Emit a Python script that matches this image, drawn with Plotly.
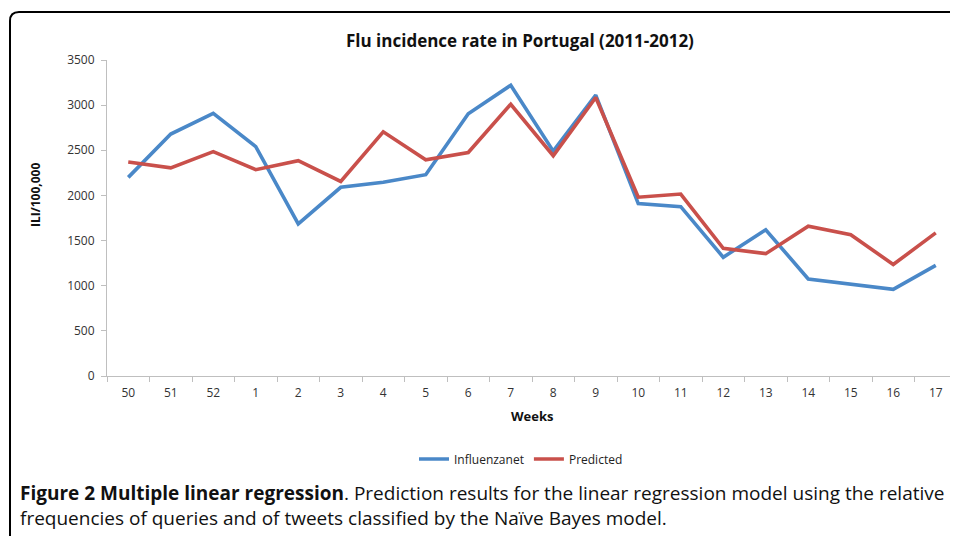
import plotly.graph_objects as go

weeks = ["50", "51", "52", "1", "2", "3", "4", "5", "6", "7", "8", "9",
         "10", "11", "12", "13", "14", "15", "16", "17"]
influenzanet = [2200, 2680, 2910, 2540, 1685, 2090, 2145, 2230, 2905, 3220,
                2490, 3110, 1910, 1875, 1315, 1620, 1075, 1015, 960, 1225]
predicted = [2370, 2305, 2485, 2285, 2385, 2155, 2705, 2395, 2475, 3010,
             2440, 3085, 1980, 2015, 1415, 1355, 1660, 1565, 1235, 1585]

OFF = 8  # browser body margin
W, H = 958 - OFF, 536 - OFF
L, R, T = 107 - OFF, 1, 60 - OFF
B = H - (376 - OFF)
PW, PH = W - L - R, H - T - B


def px(x):
    return (x - OFF - L) / PW


def py(y):
    return (H - B - (y - OFF)) / PH


FONT = "Open Sans"
fig = go.Figure()
fig.add_trace(go.Scatter(x=weeks, y=influenzanet, mode="lines", name="Influenzanet",
                         line=dict(color="#4A88C8", width=3.6)))
fig.add_trace(go.Scatter(x=weeks, y=predicted, mode="lines", name="Predicted",
                         line=dict(color="#C9504B", width=3.6)))

r = 9
border = (f"M {px(10)},{py(545)} L {px(10)},{py(12 + r)} "
          f"Q {px(10)},{py(12)} {px(10 + r)},{py(12)} L {px(970)},{py(12)}")

fig.update_layout(
    width=W, height=H,
    margin=dict(l=L, r=R, t=T, b=B),
    paper_bgcolor="white", plot_bgcolor="white",
    font=dict(family=FONT, color="#333333", size=12),
    showlegend=True,
    legend=dict(orientation="h", x=px(521), xanchor="center", y=py(459), yanchor="middle",
                font=dict(family=FONT, size=12, color="#222222"),
                itemwidth=30, tracegroupgap=0, bgcolor="rgba(0,0,0,0)"),
    xaxis=dict(type="category", range=[-0.5, 19.5], showline=True, linecolor="#BFBFBF",
               linewidth=1, ticks="outside", tickson="boundaries", ticklen=5,
               tickcolor="#BFBFBF", showgrid=False, zeroline=False, ticklabelstandoff=6,
               tickfont=dict(size=12, color="#333333")),
    yaxis=dict(range=[0, 3500], dtick=500, showline=True, linecolor="#BFBFBF",
               linewidth=1, ticks="outside", ticklen=5, tickcolor="#BFBFBF",
               showgrid=False, zeroline=False, ticklabelstandoff=4,
               tickfont=dict(size=12, color="#333333")),
    shapes=[dict(type="path", xref="paper", yref="paper", path=border,
                 line=dict(color="black", width=2))],
    annotations=[
        dict(text="<b>Flu incidence rate in Portugal (2011-2012)</b>", xref="paper", yref="paper",
             x=px(520), y=py(41), xanchor="center", yanchor="middle", showarrow=False,
             font=dict(family=FONT, size=17, color="#111111")),
        dict(text="<b>Weeks</b>", xref="paper", yref="paper",
             x=px(532), y=py(416), xanchor="center", yanchor="middle", showarrow=False,
             font=dict(family=FONT, size=13, color="#111111")),
        dict(text="<b>ILI/100,000</b>", xref="paper", yref="paper", textangle=-90,
             x=px(36), y=py(195), xanchor="center", yanchor="middle", showarrow=False,
             font=dict(family=FONT, size=12, color="#111111")),
        dict(text="<b>Figure 2 Multiple linear regression</b>. Prediction results for the linear "
                  "regression model using the relative",
             xref="paper", yref="paper", x=px(18), y=py(493), xanchor="left", yanchor="middle",
             showarrow=False, font=dict(family=FONT, size=19, color="#111111")),
        dict(text="frequencies of queries and of tweets classified by the Naïve Bayes model.",
             xref="paper", yref="paper", x=px(18), y=py(518), xanchor="left", yanchor="middle",
             showarrow=False, font=dict(family=FONT, size=19, color="#111111")),
    ],
)

fig.write_html("out.html")
